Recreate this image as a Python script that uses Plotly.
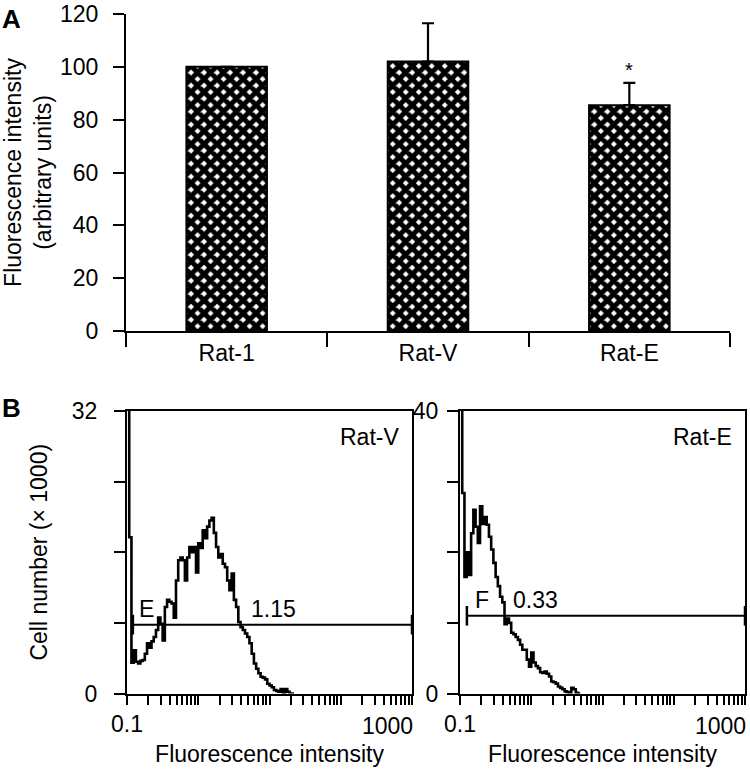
import math
import plotly.graph_objects as go

FONT = "Liberation Sans, Arial, Helvetica, sans-serif"
FS = 23

# ---------------- Panel A data ----------------
groups = ["Rat-1", "Rat-V", "Rat-E"]
mean_intensity = [100, 102, 85.5]
err_up = [None, 14.5, 8.4]
err_down = [0, 0, 0]
a_ticks = [0, 20, 40, 60, 80, 100, 120]
sig_marks = ["", "", "*"]

# ---------------- Panel B data ----------------
# cell counts (x1000) per log channel (32 channels per decade, starting at 0.1)
channels_per_decade = 32
x_start = 0.1
ratv_counts = [40, 17.7, 3.5, 4.9, 3.6, 3.4, 3.7, 3.8, 4.5, 5.7,
               5.2, 5.9, 6.4, 7.2, 8.6, 7.9, 6.0, 9.8, 10.6, 10.4,
               10.2, 8.6, 12.8, 15.1, 15.4, 15.1, 12.8, 15.4, 16.6, 16.0,
               16.6, 13.7, 17.0, 16.5, 18.5, 17.6, 18.9, 19.6, 19.9, 18.2,
               16.6, 15.4, 15.8, 14.7, 14.3, 12.8, 11.7, 13.6, 10.6, 9.8,
               8.1, 7.5, 7.2, 6.8, 6.4, 5.7, 4.5, 3.4, 2.8, 2.3,
               1.9, 1.8, 1.6, 1.1, 0.9, 0.7, 0.4, 0.3, 0.2, 0.5,
               0.1, 0.5, 0.2, 0.0, 0.0]
rate_counts = [45, 28.4, 16.5, 20.0, 16.8, 22.7, 26.0, 23.6, 21.3, 26.5,
               24.0, 25.0, 23.9, 22.2, 20.4, 18.5, 16.5, 15.2, 13.7, 12.9,
               9.8, 10.6, 10.0, 8.6, 8.4, 8.0, 7.6, 6.9, 6.2, 6.2,
               4.8, 3.8, 5.8, 4.4, 3.9, 3.6, 3.0, 2.9, 3.1, 2.8,
               2.4, 1.7, 1.6, 1.4, 1.0, 0.8, 0.6, 0.3, 0.2, 0.1,
               0.8, 0.6, 0.1, 0.0]
panel_b_names = ["Rat-V", "Rat-E"]
y_max_b = [32, 40]
y_ticks_b = [[0, 8, 16, 24, 32], [0, 10, 20, 30, 40]]
gate_start = [0.121, 0.125]
gate_end = [1000, 1000]
gate_level = [7.8, 11]
gate_letter = ["E", "F"]
gate_value = ["1.15", "0.33"]
gate_letter_x = [0.138, 0.15]
gate_value_x = [5.2, 0.52]
log_minor = [k * 10 ** e for e in (-1, 0, 1, 2) for k in range(1, 10)] + [1000]


def channel_edges(n):
    return [x_start * 10 ** (i / channels_per_decade) for i in range(n + 1)]


fig = go.Figure()

# Panel A bars
fig.add_trace(go.Bar(
    x=groups, y=mean_intensity, width=0.4,
    marker=dict(color="black", line=dict(color="black", width=2),
                pattern=dict(shape="x", size=9.2, solidity=0.8,
                             fgcolor="black", bgcolor="white", fgopacity=1)),
    error_y=dict(type="data", symmetric=False, array=err_up, arrayminus=err_down,
                 color="black", thickness=2.2, width=6),
    xaxis="x", yaxis="y", showlegend=False))

for g, m, e, s in zip(groups, mean_intensity, err_up, sig_marks):
    if s:
        fig.add_annotation(x=g, y=m + (e or 0), xref="x", yref="y", text=s,
                           showarrow=False, yanchor="bottom", yshift=0,
                           font=dict(size=20, family=FONT, color="black"))

# Panel B histograms
for i, counts in enumerate([ratv_counts, rate_counts]):
    xa = "x%d" % (i + 2)
    ya = "y%d" % (i + 2)
    edges = channel_edges(len(counts))
    fig.add_trace(go.Scatter(x=edges, y=counts + [counts[-1]], mode="lines",
                             line=dict(color="black", width=2.6, shape="hv"),
                             xaxis=xa, yaxis=ya, showlegend=False))
    fig.add_trace(go.Scatter(x=[gate_start[i], gate_end[i]], y=[gate_level[i]] * 2,
                             mode="lines+markers",
                             line=dict(color="black", width=2),
                             marker=dict(symbol="line-ns", size=14, color="black",
                                         line=dict(color="black", width=2.5)),
                             xaxis=xa, yaxis=ya, showlegend=False, cliponaxis=False))
    fig.add_annotation(x=math.log10(gate_letter_x[i]), y=gate_level[i], xref=xa, yref=ya,
                       text=gate_letter[i], showarrow=False, xanchor="left",
                       yanchor="bottom", yshift=1,
                       font=dict(size=FS, family=FONT, color="black"))
    fig.add_annotation(x=math.log10(gate_value_x[i]), y=gate_level[i], xref=xa, yref=ya,
                       text=gate_value[i], showarrow=False, xanchor="left",
                       yanchor="bottom", yshift=1,
                       font=dict(size=FS, family=FONT, color="black"))
    fig.add_annotation(x=0.96, y=0.96, xref=xa + " domain", yref=ya + " domain",
                       text=panel_b_names[i], showarrow=False, xanchor="right",
                       yanchor="top", font=dict(size=FS, family=FONT, color="black"))
    fig.add_annotation(x=1, y=0, xref=xa + " domain", yref=ya + " domain",
                       text="1000", showarrow=False, xanchor="right", yanchor="top",
                       yshift=-17, xshift=3,
                       font=dict(size=FS, family=FONT, color="black"))

# Panel labels
fig.add_annotation(x=0.0, y=1 - 2 / 771, xref="paper", yref="paper", text="<b>A</b>",
                   showarrow=False, xanchor="left", yanchor="top",
                   font=dict(size=26, family=FONT, color="black"))
fig.add_annotation(x=0.0, y=1 - 391 / 771, xref="paper", yref="paper", text="<b>B</b>",
                   showarrow=False, xanchor="left", yanchor="top",
                   font=dict(size=26, family=FONT, color="black"))

axis_common = dict(showgrid=False, zeroline=False, showline=True, linecolor="black",
                   linewidth=2, ticks="outside", tickcolor="black", tickwidth=2,
                   tickfont=dict(size=FS, family=FONT, color="black"), automargin=False)

fig.update_layout(
    width=750, height=771,
    margin=dict(l=0, r=0, t=0, b=0),
    paper_bgcolor="white", plot_bgcolor="white",
    font=dict(family=FONT, color="black", size=FS),
    xaxis=dict(domain=[126 / 750, 730 / 750], anchor="y", type="category",
               range=[-0.5, 2.5], tickson="boundaries", ticklen=14, **axis_common),
    yaxis=dict(domain=[1 - 331 / 771, 1 - 14 / 771], anchor="x", range=[0, 120],
               tickvals=a_ticks, ticklen=11, ticklabelstandoff=10,
               title=dict(text="Fluorescence intensity<br>(arbitrary units)",
                          font=dict(size=FS, family=FONT), standoff=10),
               **axis_common),
)

for i in range(2):
    dom_x = [[127 / 750, 412 / 750], [460 / 750, 745 / 750]][i]
    xname = "xaxis%d" % (i + 2)
    yname = "yaxis%d" % (i + 2)
    fig.update_layout(**{
        xname: dict(domain=dom_x, anchor="y%d" % (i + 2), type="log", range=[-1, 3],
                    mirror=True, tickvals=[0.1], ticktext=["0.1"], ticklen=9,
                    minor=dict(tickmode="array", tickvals=log_minor, ticks="outside",
                               ticklen=9, tickwidth=1.5, tickcolor="black"),
                    title=dict(text="Fluorescence intensity", standoff=10,
                               font=dict(size=FS, family=FONT)),
                    **axis_common),
        yname: dict(domain=[1 - 693.5 / 771, 1 - 411 / 771], anchor="x%d" % (i + 2),
                    range=[0, y_max_b[i]], mirror=True, tickvals=y_ticks_b[i],
                    ticktext=[str(y_ticks_b[i][0]), "", "", "", str(y_ticks_b[i][-1])],
                    ticklen=11, ticklabelstandoff=[12, 4][i],
                    title=dict(text="Cell number (× 1000)" if i == 0 else "",
                               font=dict(size=FS, family=FONT), standoff=18),
                    **axis_common),
    })

fig.write_html("out.html", config={"displayModeBar": False},
               post_script="document.body.style.margin='0';")
